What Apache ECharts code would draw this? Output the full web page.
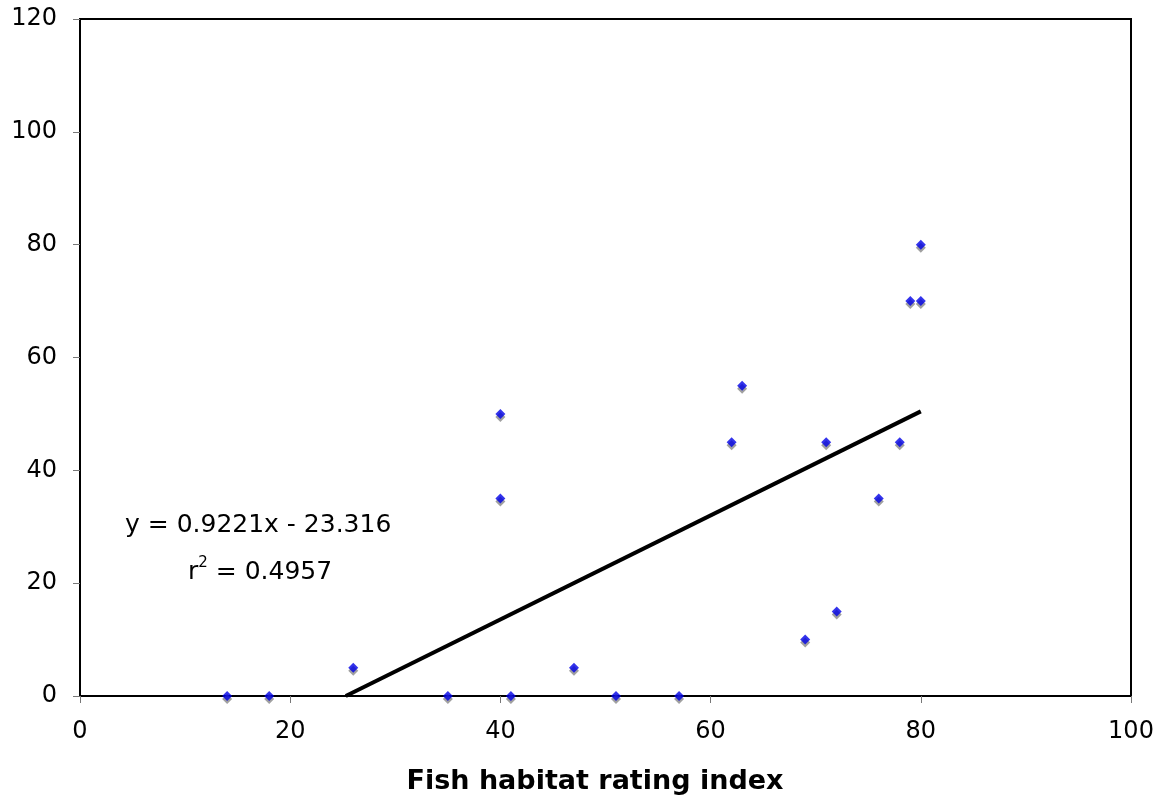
<!DOCTYPE html>
<html lang="en">
<head>
    <meta charset="UTF-8">
    <title>Fish habitat rating index</title>
    <style>
        * { margin: 0; padding: 0; }
        body { background: #fff; }
        #chart { width: 1172px; height: 803px; }
    </style>
    <script src="https://cdn.jsdelivr.net/npm/echarts@6/dist/echarts.min.js"></script>
</head>
<body>
    <div id="chart"></div>
    <script>
        // habitat rating (x) and value (y)
        var habitatX = [14, 18, 26, 35, 40, 40, 41, 47, 51, 57, 62, 63, 69, 71, 72, 76, 78, 79, 80, 80];
        var valueY   = [0, 0, 5, 0, 50, 35, 0, 5, 0, 0, 45, 55, 10, 45, 15, 35, 45, 70, 70, 80];

        // linear fit reported in the chart
        var slope = 0.9221;
        var intercept = -23.316;
        var rSquared = 0.4957;
        var fitEndX = 80;

        var xTicks = [0, 20, 40, 60, 80, 100];
        var yTicks = [0, 20, 40, 60, 80, 100, 120];
        var xTitle = 'Fish habitat rating index';

        var points = habitatX.map(function (x, i) { return [x, valueY[i]]; });
        var fitStartX = -intercept / slope;
        var fitLine = [
            [fitStartX, slope * fitStartX + intercept],
            [fitEndX, slope * fitEndX + intercept]
        ];

        var font = 'Verdana, "DejaVu Sans", sans-serif';
        var myChart = echarts.init(document.getElementById('chart'));
        myChart.setOption({
            animation: false,
            grid: { left: 80, right: 41, top: 19, bottom: 107, show: true, borderColor: '#000', borderWidth: 2 },
            xAxis: {
                type: 'value', min: xTicks[0], max: xTicks[xTicks.length - 1], interval: 20,
                axisLine: { lineStyle: { color: '#000', width: 2 } },
                axisTick: { show: true, length: 7, lineStyle: { color: '#777', width: 1 } },
                axisLabel: { fontFamily: font, fontSize: 24, color: '#000', margin: 24 },
                splitLine: { show: false }
            },
            yAxis: {
                type: 'value', min: yTicks[0], max: yTicks[yTicks.length - 1], interval: 20,
                axisLine: { show: true, lineStyle: { color: '#000', width: 2 } },
                axisTick: { show: true, length: 7, lineStyle: { color: '#777', width: 1 } },
                axisLabel: { fontFamily: font, fontSize: 24, color: '#000', margin: 23 },
                splitLine: { show: false }
            },
            series: [
                {
                    type: 'line',
                    data: fitLine,
                    symbol: 'none',
                    lineStyle: { color: '#000', width: 4 },
                    z: 2
                },
                {
                    type: 'scatter',
                    data: points,
                    symbol: 'diamond',
                    symbolSize: 10,
                    itemStyle: {
                        color: '#0000e6',
                        shadowColor: '#888',
                        shadowBlur: 0,
                        shadowOffsetX: 0,
                        shadowOffsetY: 3
                    },
                    z: 3
                }
            ],
            graphic: [
                {
                    type: 'text', x: 125, y: 525,
                    style: {
                        text: 'y = ' + slope + 'x - ' + Math.abs(intercept),
                        fontFamily: font, fontSize: 25, fill: '#000',
                        align: 'left', verticalAlign: 'middle'
                    }
                },
                {
                    type: 'text', x: 188, y: 570,
                    style: {
                        text: '{b|r}{s|2}{b| = ' + rSquared + '}',
                        align: 'left', verticalAlign: 'middle',
                        rich: {
                            b: { fontFamily: font, fontSize: 25, fill: '#000', verticalAlign: 'bottom' },
                            s: { fontFamily: font, fontSize: 15, fill: '#000', verticalAlign: 'top', padding: [0, 0, 14, 0] }
                        }
                    }
                },
                {
                    type: 'text', x: 595, y: 782,
                    style: {
                        text: xTitle,
                        fontFamily: font, fontSize: 27, fontWeight: 'bold', fill: '#000',
                        align: 'center', verticalAlign: 'middle'
                    }
                }
            ]
        });
    </script>
</body>
</html>
